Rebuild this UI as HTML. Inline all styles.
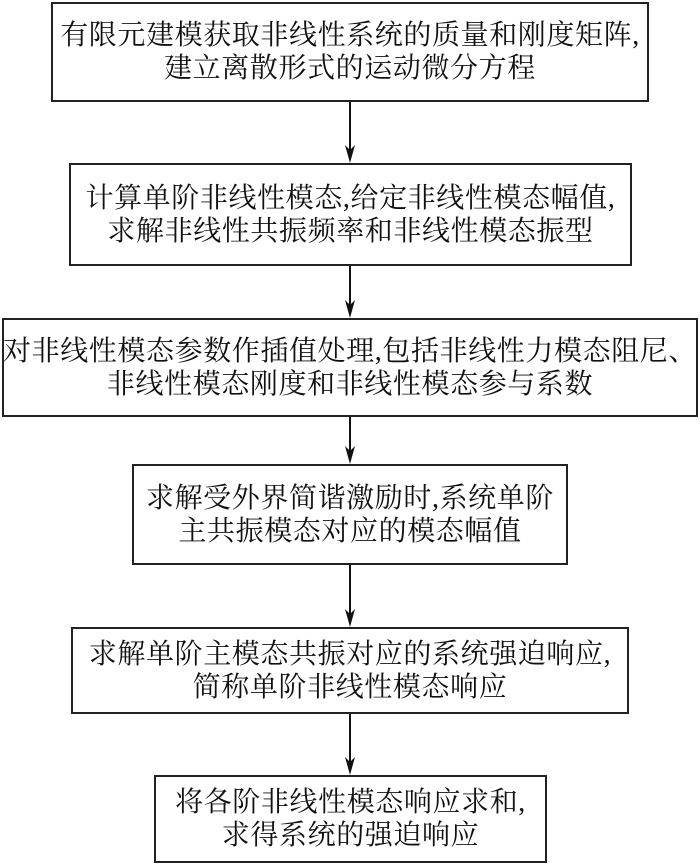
<!DOCTYPE html>
<html><head><meta charset="utf-8"><style>
body{margin:0;width:700px;height:864px;background:#fff;position:relative;overflow:hidden}
.b{position:absolute;border:2px solid #222;box-sizing:border-box;display:flex;align-items:center;justify-content:center;text-align:center;font-family:"Liberation Serif","Noto Serif CJK SC",serif;font-size:28px;letter-spacing:0.6px;line-height:33px;color:#111;white-space:nowrap}
svg{position:absolute;left:0;top:0}
</style></head><body>
<svg width="700" height="864">
<g stroke="#111" stroke-width="2" fill="none">
<line x1="350" y1="101" x2="350" y2="155"/>
<line x1="350" y1="266" x2="350" y2="310"/>
<line x1="350" y1="416" x2="350" y2="456"/>
<line x1="350" y1="564" x2="350" y2="619"/>
<line x1="350" y1="713" x2="350" y2="767"/>
</g>
<g fill="#111">
<path d="M345,145 L350,163 L355,145 L350,150 Z"/>
<path d="M345,300 L350,318 L355,300 L350,305 Z"/>
<path d="M345,446 L350,464 L355,446 L350,451 Z"/>
<path d="M345,609 L350,627 L355,609 L350,614 Z"/>
<path d="M345,757 L350,775 L355,757 L350,762 Z"/>
</g></svg>
<div class="b" style="left:51px;top:2px;width:598px;height:100px">有限元建模获取非线性系统的质量和刚度矩阵,<br>建立离散形式的运动微分方程</div>
<div class="b" style="left:69px;top:163px;width:563px;height:103px">计算单阶非线性模态,给定非线性模态幅值,<br>求解非线性共振频率和非线性模态振型</div>
<div class="b" style="left:2px;top:318px;width:696px;height:99px">对非线性模态参数作插值处理,包括非线性力模态阻尼、<br>非线性模态刚度和非线性模态参与系数</div>
<div class="b" style="left:132px;top:464px;width:436px;height:101px">求解受外界简谐激励时,系统单阶<br>主共振模态对应的模态幅值</div>
<div class="b" style="left:71px;top:627px;width:558px;height:87px">求解单阶主模态共振对应的系统强迫响应,<br>简称单阶非线性模态响应</div>
<div class="b" style="left:154px;top:775px;width:393px;height:88px">将各阶非线性模态响应求和,<br>求得系统的强迫响应</div>
</body></html>
